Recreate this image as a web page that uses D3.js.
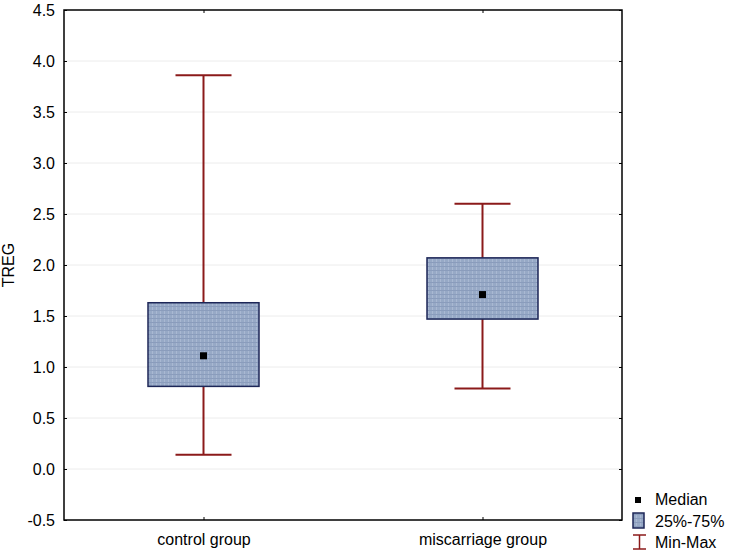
<!DOCTYPE html>
<html><head><meta charset="utf-8">
<script src="https://cdn.jsdelivr.net/npm/d3@7"></script>
<style>body{margin:0;background:#fff;}svg{display:block;font-family:Arial,"Liberation Sans",sans-serif;}</style>
</head><body><svg id="c" width="730" height="555"></svg>
<script>
const categories = ["control group", "miscarriage group"];
const minVals = [0.14, 0.79];
const q1Vals = [0.81, 1.47];
const medianVals = [1.11, 1.71];
const q3Vals = [1.63, 2.07];
const maxVals = [3.86, 2.60];
const yTicks = [-0.5, 0.0, 0.5, 1.0, 1.5, 2.0, 2.5, 3.0, 3.5, 4.0, 4.5];
const legendLabels = ["Median", "25%-75%", "Min-Max"];

const svg = d3.select("#c");
const L = 64, R = 622, T = 10, B = 520;
const FS = 16;
const y = d3.scaleLinear().domain([-0.5, 4.5]).range([B, T]);
const x = d3.scalePoint().domain(categories).range([L, R]).padding(0.5);
const boxW = 111, capW = 56;
const red = "#8b1a1a", navy = "#1c2657", fill = "#97a9c6";
const fmt = d => d3.format(".1f")(d).replace("\u2212", "-");

const defs = svg.append("defs");
const pat = defs.append("pattern").attr("id","p").attr("width",4).attr("height",4).attr("patternUnits","userSpaceOnUse");
pat.append("rect").attr("width",4).attr("height",4).attr("fill",fill);
pat.append("rect").attr("x",0).attr("y",0).attr("width",1).attr("height",4).attr("fill","#a9b8d2");
pat.append("rect").attr("x",0).attr("y",2).attr("width",4).attr("height",1).attr("fill","#8a9cbc");

// grid
svg.append("g").selectAll("line").data(yTicks.slice(1,-1)).join("line")
  .attr("x1",L).attr("x2",R).attr("y1",d=>y(d)).attr("y2",d=>y(d))
  .attr("stroke","#ececec").attr("stroke-width",1);

// axes
const yAxis = d3.axisLeft(y).tickValues(yTicks).tickFormat(fmt).tickSize(-3).tickPadding(9);
const gy = svg.append("g").attr("transform",`translate(${L},0)`).call(yAxis);
gy.select(".domain").remove();
gy.selectAll("text").attr("font-size",FS).attr("fill","#000").attr("font-family","Arial, Liberation Sans, sans-serif");
gy.selectAll("line").attr("stroke","#000");
const yAxisR = d3.axisRight(y).tickValues(yTicks).tickSize(-3).tickFormat("");
const gyr = svg.append("g").attr("transform",`translate(${R},0)`).call(yAxisR);
gyr.select(".domain").remove();
gyr.selectAll("line").attr("stroke","#000");

const xAxis = d3.axisBottom(x).tickSize(-3).tickPadding(14);
const gx = svg.append("g").attr("transform",`translate(0,${B})`).call(xAxis);
gx.select(".domain").remove();
gx.selectAll("text").attr("font-size",FS).attr("fill","#000").attr("font-family","Arial, Liberation Sans, sans-serif");
gx.selectAll("line").attr("stroke","#000");
const xAxisT = d3.axisTop(x).tickSize(-3).tickFormat("");
const gxt = svg.append("g").attr("transform",`translate(0,${T})`).call(xAxisT);
gxt.select(".domain").remove();
gxt.selectAll("line").attr("stroke","#000");

// frame
svg.append("rect").attr("x",L).attr("y",T).attr("width",R-L).attr("height",B-T)
  .attr("fill","none").attr("stroke","#000").attr("stroke-width",1.5);

// y label
svg.append("text").attr("transform",`translate(14,${265}) rotate(-90)`)
  .attr("text-anchor","middle").attr("font-size",FS).text("TREG");

// boxes
const idx = d3.range(categories.length);
const g = svg.append("g");
idx.forEach(i=>{
  const cx = x(categories[i]);
  g.append("line").attr("x1",cx).attr("x2",cx).attr("y1",y(maxVals[i])).attr("y2",y(q3Vals[i])).attr("stroke",red).attr("stroke-width",2);
  g.append("line").attr("x1",cx).attr("x2",cx).attr("y1",y(q1Vals[i])).attr("y2",y(minVals[i])).attr("stroke",red).attr("stroke-width",2);
  g.append("line").attr("x1",cx-capW/2).attr("x2",cx+capW/2).attr("y1",y(maxVals[i])).attr("y2",y(maxVals[i])).attr("stroke",red).attr("stroke-width",2);
  g.append("line").attr("x1",cx-capW/2).attr("x2",cx+capW/2).attr("y1",y(minVals[i])).attr("y2",y(minVals[i])).attr("stroke",red).attr("stroke-width",2);
  g.append("rect").attr("x",cx-boxW/2).attr("y",y(q3Vals[i])).attr("width",boxW).attr("height",y(q1Vals[i])-y(q3Vals[i]))
    .attr("fill","url(#p)").attr("stroke",navy).attr("stroke-width",1.5);
  g.append("rect").attr("x",cx-3.5).attr("y",y(medianVals[i])-3.5).attr("width",7).attr("height",7).attr("fill","#000");
});

// legend
const lg = svg.append("g");
lg.append("rect").attr("x",635).attr("y",497).attr("width",6).attr("height",6).attr("fill","#000");
lg.append("rect").attr("x",633).attr("y",513).attr("width",11).attr("height",15).attr("fill","url(#p)").attr("stroke",navy).attr("stroke-width",1.5);
lg.append("line").attr("x1",639.5).attr("x2",639.5).attr("y1",535).attr("y2",549).attr("stroke",red).attr("stroke-width",1.5);
lg.append("line").attr("x1",633).attr("x2",646).attr("y1",535).attr("y2",535).attr("stroke",red).attr("stroke-width",1.5);
lg.append("line").attr("x1",633).attr("x2",646).attr("y1",549).attr("y2",549).attr("stroke",red).attr("stroke-width",1.5);
lg.selectAll("text").data(legendLabels).join("text")
  .attr("x",655).attr("y",(d,i)=>505+i*21.5).attr("font-size",FS).text(d=>d);
</script></body></html>
